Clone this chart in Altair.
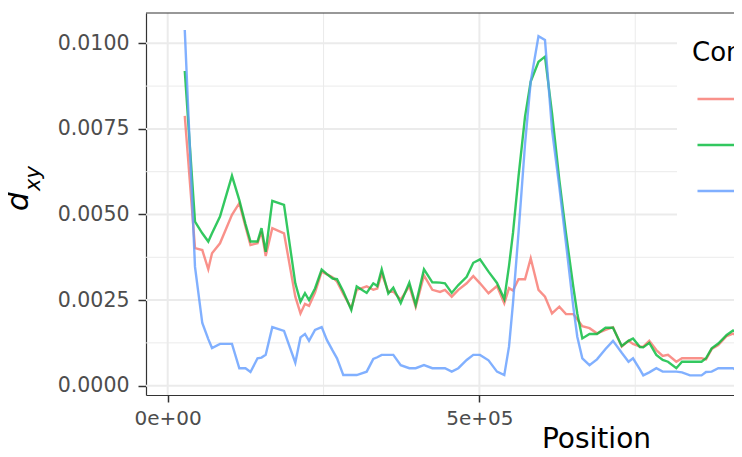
import altair as alt
import pandas as pd

# window midpoints (bp)
positions = [27400, 43800, 55500, 65100, 71100, 83900, 103100, 114900, 124800, 132800,
             144100, 150500, 157200, 167800, 186600, 204700, 213000, 220200, 226700, 236300,
             247000, 255500, 264400, 271600, 281700, 294500, 303200, 319200, 329800, 336200,
             343300, 353900, 361900, 373800, 387600, 397800, 411100, 424500, 436800, 444800,
             455600, 466200, 479600, 490200, 501000, 514600, 528200, 539900, 547500, 553900,
             562700, 573200, 582300, 594800, 605200, 616500, 628200, 638900, 650600, 657000,
             665100, 676600, 688600, 702300, 714300, 728300, 739200, 746400, 757600, 762900,
             772500, 783800, 794000, 802500, 815900, 825000, 837800, 856300, 863500, 872600,
             883200, 896700, 906800, 918000, 927700]

dxy_a = [0.00788, 0.00402, 0.00396, 0.00340, 0.00387, 0.00416, 0.00499, 0.00533, 0.00464, 0.00411,
         0.00416, 0.00450, 0.00379, 0.00460, 0.00445, 0.00260, 0.00211, 0.00239, 0.00233, 0.00272,
         0.00333, 0.00325, 0.00317, 0.00304, 0.00268, 0.00226, 0.00280, 0.00290, 0.00280, 0.00284,
         0.00328, 0.00274, 0.00275, 0.00251, 0.00291, 0.00230, 0.00322, 0.00280, 0.00274, 0.00280,
         0.00260, 0.00280, 0.00299, 0.00320, 0.00299, 0.00270, 0.00291, 0.00241, 0.00285, 0.00278,
         0.00311, 0.00311, 0.00372, 0.00280, 0.00260, 0.00211, 0.00231, 0.00209, 0.00209, 0.00194,
         0.00174, 0.00168, 0.00153, 0.00163, 0.00171, 0.00114, 0.00131, 0.00122, 0.00114, 0.00114,
         0.00131, 0.00104, 0.00087, 0.00090, 0.00070, 0.00080, 0.00080, 0.00080, 0.00077, 0.00107,
         0.00119, 0.00145, 0.00152, 0.00143, 0.00133]

dxy_b = [0.00919, 0.00479, 0.00445, 0.00421, 0.00445, 0.00494, 0.00613, 0.00542, 0.00472, 0.00421,
         0.00421, 0.00460, 0.00391, 0.00540, 0.00528, 0.00299, 0.00245, 0.00270, 0.00250, 0.00284,
         0.00339, 0.00326, 0.00313, 0.00311, 0.00275, 0.00221, 0.00290, 0.00271, 0.00299, 0.00291,
         0.00340, 0.00269, 0.00286, 0.00241, 0.00301, 0.00236, 0.00340, 0.00302, 0.00301, 0.00299,
         0.00271, 0.00294, 0.00318, 0.00359, 0.00369, 0.00333, 0.00300, 0.00253, 0.00350, 0.00446,
         0.00610, 0.00786, 0.00888, 0.00946, 0.00961, 0.00796, 0.00601, 0.00445, 0.00289, 0.00211,
         0.00138, 0.00151, 0.00151, 0.00169, 0.00169, 0.00116, 0.00131, 0.00138, 0.00113, 0.00112,
         0.00125, 0.00090, 0.00075, 0.00070, 0.00051, 0.00070, 0.00070, 0.00070, 0.00080, 0.00109,
         0.00123, 0.00148, 0.00161, 0.00158, 0.00151]

dxy_c = [0.01039, 0.00347, 0.00183, 0.00136, 0.00110, 0.00122, 0.00122, 0.00051, 0.00051, 0.00040,
         0.00080, 0.00082, 0.00090, 0.00171, 0.00160, 0.00067, 0.00141, 0.00151, 0.00131, 0.00163,
         0.00171, 0.00133, 0.00103, 0.00080, 0.00031, 0.00031, 0.00031, 0.00041, 0.00078, 0.00083,
         0.00090, 0.00090, 0.00090, 0.00060, 0.00051, 0.00051, 0.00060, 0.00051, 0.00051, 0.00051,
         0.00041, 0.00051, 0.00075, 0.00090, 0.00090, 0.00074, 0.00041, 0.00031, 0.00114, 0.00241,
         0.00446, 0.00706, 0.00888, 0.01021, 0.01010, 0.00747, 0.00581, 0.00416, 0.00231, 0.00143,
         0.00080, 0.00060, 0.00077, 0.00107, 0.00131, 0.00096, 0.00070, 0.00080, 0.00047, 0.00030,
         0.00039, 0.00051, 0.00041, 0.00041, 0.00041, 0.00039, 0.00030, 0.00030, 0.00040, 0.00041,
         0.00051, 0.00051, 0.00051, 0.00040, 0.00037]

series_names = ["pop1 vs pop2", "pop1 vs pop3", "pop2 vs pop3"]
series_colors = ["#F8766D", "#00BA38", "#619CFF"]

x_tick_values = [0, 500000]
x_tick_labels = ["0e+00", "5e+05"]
x_minor = [250000, 750000]
y_tick_values = [0.0, 0.0025, 0.005, 0.0075, 0.01]
y_minor = [0.00125, 0.00375, 0.00625, 0.00875]

rows = []
for name, vals in zip(series_names, [dxy_a, dxy_b, dxy_c]):
    for p, v in zip(positions, vals):
        rows.append({"Position": p, "dxy": v, "Comparison": name})
df = pd.DataFrame(rows)

W, H = 588, 382
FONT = "DejaVu Sans"
xscale = alt.Scale(domain=[-34800, 908400], nice=False, zero=False)
yscale = alt.Scale(domain=[-0.000272, 0.010885], nice=False, zero=False)

label_expr = " : ".join(
    f"datum.value == {v} ? '{l}'" for v, l in zip(x_tick_values, x_tick_labels)
) + " : ''"

gx_major = alt.Chart(pd.DataFrame({"v": x_tick_values})).mark_rule(
    color="#EBEBEB", strokeWidth=2).encode(x=alt.X("v:Q", scale=xscale, axis=None))
gx_minor = alt.Chart(pd.DataFrame({"v": x_minor})).mark_rule(
    color="#EBEBEB", strokeWidth=1).encode(x=alt.X("v:Q", scale=xscale, axis=None))
gy_major = alt.Chart(pd.DataFrame({"v": y_tick_values})).mark_rule(
    color="#EBEBEB", strokeWidth=2).encode(y=alt.Y("v:Q", scale=yscale, axis=None))
gy_minor = alt.Chart(pd.DataFrame({"v": y_minor})).mark_rule(
    color="#EBEBEB", strokeWidth=1).encode(y=alt.Y("v:Q", scale=yscale, axis=None))

lines = alt.Chart(df).mark_line(strokeWidth=2.4, opacity=0.8, clip=True).encode(
    x=alt.X("Position:Q", scale=xscale,
            axis=alt.Axis(values=x_tick_values, labelExpr=label_expr, grid=False,
                          domainColor="#333333", domainWidth=1.2,
                          tickColor="#333333", tickWidth=1.5, tickSize=7,
                          labelFont=FONT, labelFontSize=20, labelColor="#4D4D4D",
                          labelPadding=6,
                          title="Position", titleFont=FONT, titleFontSize=28,
                          titleFontWeight="normal", titleColor="black",
                          titleAnchor="start", titleAlign="center",
                          titleX=450, titleY=52, titleBaseline="alphabetic")),
    y=alt.Y("dxy:Q", scale=yscale,
            axis=alt.Axis(values=y_tick_values, format=".4f", grid=False,
                          domainColor="#333333", domainWidth=1.2,
                          tickColor="#333333", tickWidth=1.5, tickSize=8,
                          labelFont=FONT, labelFontSize=20.5, labelColor="#4D4D4D",
                          labelPadding=9, title=None)),
    color=alt.Color("Comparison:N",
                    scale=alt.Scale(domain=series_names, range=series_colors),
                    legend=alt.Legend(orient="none", legendX=531, legendY=12,
                                      title="Comparison", titleFont=FONT,
                                      titleFontSize=26, titleFontWeight="normal",
                                      titleColor="black", titlePadding=13,
                                      labelFont=FONT, labelFontSize=20,
                                      labelOffset=16,
                                      symbolType="stroke", symbolSize=1369,
                                      symbolStrokeWidth=2.4, symbolOpacity=0.8,
                                      symbolOffset=4, rowPadding=16,
                                      fillColor="white", padding=15)),
)

one = pd.DataFrame({"a": [0]})
top_border = alt.Chart(one).mark_rule(color="#333333", strokeWidth=1.2).encode(
    x=alt.value(0), x2=alt.value(W), y=alt.value(0))

title_d = alt.Chart(one).mark_text(
    text="d", angle=270, font=FONT, fontStyle="italic", fontSize=30,
    align="left", baseline="alphabetic", color="black").encode(
    x=alt.value(-118), y=alt.value(198))
title_xy = alt.Chart(one).mark_text(
    text="xy", angle=270, font=FONT, fontStyle="italic", fontSize=21,
    align="left", baseline="alphabetic", color="black").encode(
    x=alt.value(-106), y=alt.value(178))

chart = alt.layer(gx_minor, gx_major, gy_minor, gy_major, lines, top_border,
                  title_d, title_xy).resolve_axis(
    x="independent", y="independent"
).properties(
    width=W, height=H,
    autosize=alt.AutoSizeParams(type="none"),
    padding={"left": 138, "top": 5, "right": 0, "bottom": 54},
).configure_view(stroke=None)

chart.save("out.html", embed_options={"renderer": "svg", "actions": False})
